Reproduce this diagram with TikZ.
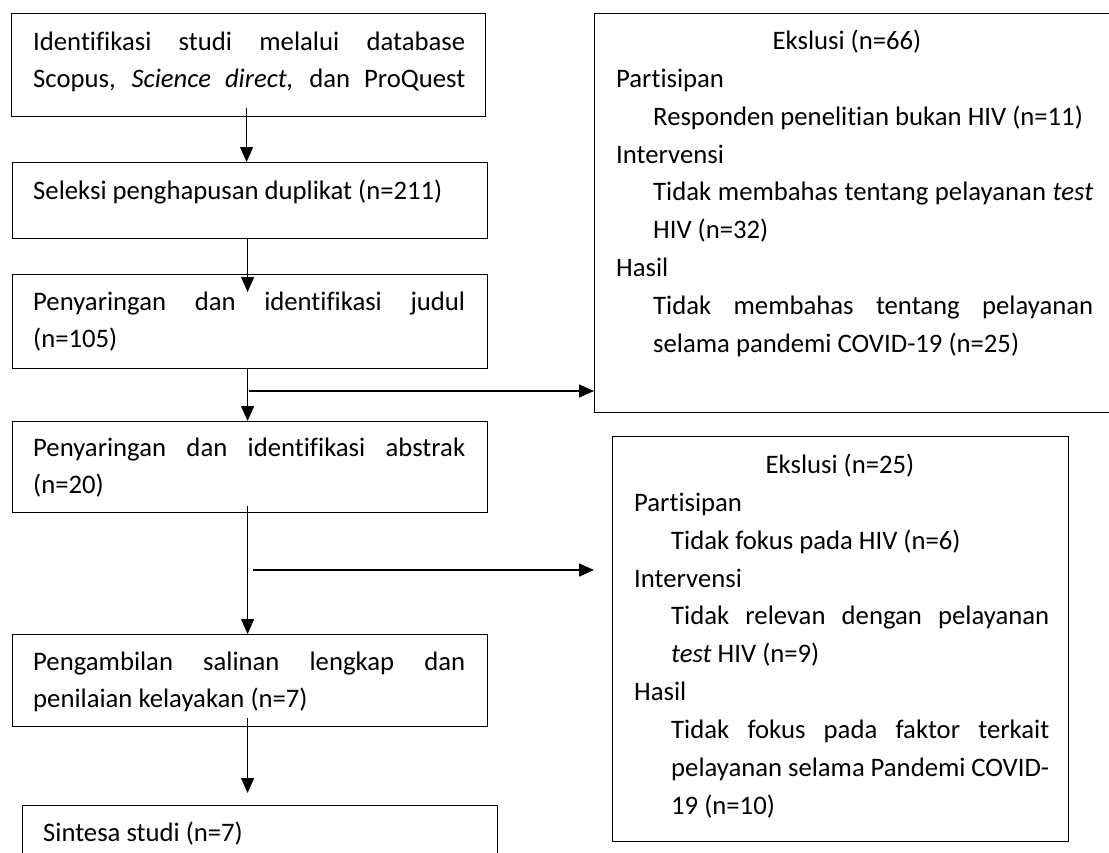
\documentclass[tikz,border=0pt]{standalone}
\usepackage{fontspec}
\setmainfont{Carlito}[Ligatures=NoCommon]
\usetikzlibrary{arrows.meta}
\newcommand\jl[2]{\makebox[#1pt][s]{#2}}
\begin{document}
\begin{tikzpicture}[x=1pt,y=-1pt,
  box/.style={draw=black,line width=1.2pt,rectangle,inner sep=0pt,anchor=north west},
  txt/.style={inner sep=0pt,anchor=base west,font=\fontsize{26.7}{37.9}\selectfont},
  ctxt/.style={txt,anchor=base},
  arr/.style={draw=black,line width=1.2pt,-{Triangle[length=15pt,width=13pt]}}]
\useasboundingbox (0,0) rectangle (1109,852);
\clip (0,0) rectangle (1109,852);
\fill[white] (0,0) rectangle (1109,852);

% left column boxes
\node[box,minimum width=474pt,minimum height=103pt] (b1) at (11,13) {};
\node[box,minimum width=475pt,minimum height=76pt]  (b2) at (12,162) {};
\node[box,minimum width=475pt,minimum height=94pt]  (b3) at (12,274) {};
\node[box,minimum width=475pt,minimum height=91pt]  (b4) at (12,421) {};
\node[box,minimum width=475pt,minimum height=92pt]  (b5) at (12,634) {};
\node[box,minimum width=475pt,minimum height=100pt] (b6) at (22,805) {};
% right exclusion boxes
\node[box,minimum width=530pt,minimum height=399pt] (e1) at (594,13) {};
\node[box,minimum width=456pt,minimum height=405pt] (e2) at (612,436) {};

% texts, left column
\node[txt] (t1a) at (33,50) {\jl{432}{Identifikasi studi melalui database}};
\node[txt] (t1b) at (33,87) {\jl{432}{Scopus, \textit{Science direct,} dan ProQuest}};
\node[txt] (t2a) at (33,199) {Seleksi penghapusan duplikat (n=211)};
\node[txt] (t3a) at (33,310) {\jl{432}{Penyaringan dan identifikasi judul}};
\node[txt] (t3b) at (33,347) {(n=105)};
\node[txt] (t4a) at (33,456) {\jl{432}{Penyaringan dan identifikasi abstrak}};
\node[txt] (t4b) at (33,493) {(n=20)};
\node[txt] (t5a) at (33,670) {\jl{432}{Pengambilan salinan lengkap dan}};
\node[txt] (t5b) at (33,707) {penilaian kelayakan (n=7)};
\node[txt] (t6a) at (43,841) {Sintesa studi (n=7)};

% texts, exclusion box 1
\node[ctxt] (u0) at (847,49) {Ekslusi (n=66)};
\node[txt] (u1) at (616,87) {Partisipan};
\node[txt] (u2) at (653,125) {Responden penelitian bukan HIV (n=11)};
\node[txt] (u3) at (616,163) {Intervensi};
\node[txt] (u4) at (653,200) {\jl{440}{Tidak membahas tentang pelayanan \textit{test}}};
\node[txt] (u5) at (653,238) {HIV (n=32)};
\node[txt] (u6) at (616,276) {Hasil};
\node[txt] (u7) at (653,314) {\jl{440}{Tidak membahas tentang pelayanan}};
\node[txt] (u8) at (653,352) {selama pandemi COVID-19 (n=25)};

% texts, exclusion box 2
\node[ctxt] (v0) at (840,473) {Ekslusi (n=25)};
\node[txt] (v1) at (634,511) {Partisipan};
\node[txt] (v2) at (671,549) {Tidak fokus pada HIV (n=6)};
\node[txt] (v3) at (634,587) {Intervensi};
\node[txt] (v4) at (671,624) {\jl{378}{Tidak relevan dengan pelayanan}};
\node[txt] (v5) at (671,662) {\textit{test} HIV (n=9)};
\node[txt] (v6) at (634,700) {Hasil};
\node[txt] (v7) at (671,738) {\jl{378}{Tidak fokus pada faktor terkait}};
\node[txt] (v8) at (671,776) {\jl{378}{pelayanan selama Pandemi COVID-}};
\node[txt] (v9) at (671,814) {19 (n=10)};

% connectors
\draw[arr] ([xshift=-2pt,yshift=9pt]b1.south) -- ([xshift=-3.5pt]b2.north);
\draw[arr] ([xshift=-2.5pt]b2.south) -- ([xshift=-2.5pt,yshift=-18pt]b3.north);
\draw[arr] ([xshift=-2.5pt]b3.south) -- ([xshift=-2.5pt]b4.north);
\draw[arr] ([xshift=-2.5pt,yshift=7pt]b4.south) -- ([xshift=-2.5pt]b5.north);
\draw[arr] ([xshift=-2.5pt,yshift=9pt]b5.south) -- ([xshift=-12.5pt,yshift=12pt]b6.north);
\coordinate (h1) at (249,391);
\coordinate (h2) at (253,570);
\draw[arr] (h1) -- (h1 -| e1.west);
\draw[arr,shorten >=18pt] (h2) -- (h2 -| e2.west);
\end{tikzpicture}
\end{document}
